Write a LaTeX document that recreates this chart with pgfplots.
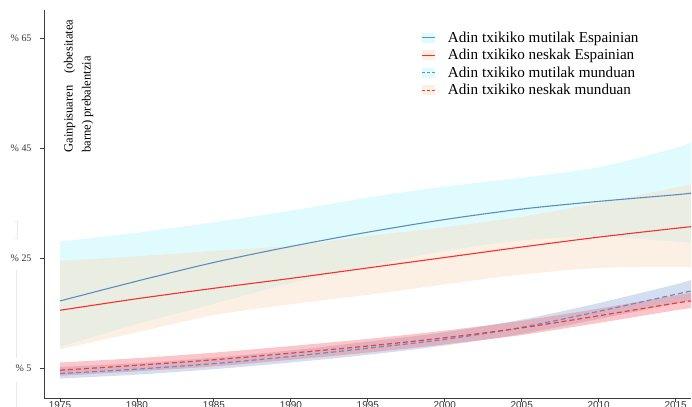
\documentclass[border=0pt]{standalone}
\usepackage{fontspec}
\setmainfont{Liberation Serif}
\newfontfamily\ticksans{Liberation Sans}
\usepackage{pgfplots}
\usepackage{pgfplotstable}
\pgfplotsset{compat=1.18}
\usepgfplotslibrary{fillbetween}

\definecolor{esBoyLine}{RGB}{95,140,190}
\definecolor{esGirlLine}{RGB}{250,45,45}
\definecolor{esBoyBand}{RGB}{177,245,250}
\definecolor{esGirlBand}{RGB}{247,217,187}
\definecolor{wBoyBand}{RGB}{110,150,205}
\definecolor{wGirlBand}{RGB}{245,90,100}
\definecolor{wBoyLine}{RGB}{105,140,195}
\definecolor{wGirlLine}{RGB}{240,60,60}
\definecolor{axisgray}{RGB}{60,60,60}

% year, estimate, lower bound, upper bound
\pgfplotstableread{
year mean lo hi
1975 17.2  8.9 28.0
1980 20.8 13.0 29.6
1985 24.2 16.7 31.5
1990 27.1 20.4 33.6
1995 29.7 23.5 36.0
2000 32.0 26.3 38.0
2005 33.9 28.2 39.6
2010 35.3 28.9 41.5
2015 36.5 28.0 45.0
2016 36.8 27.7 46.1
}\spainboys
\pgfplotstableread{
year mean lo hi
1975 15.5  8.4 24.5
1980 17.6 11.5 25.3
1985 19.5 14.6 26.3
1990 21.3 16.6 27.2
1995 23.2 18.3 29.0
2000 25.1 20.2 30.6
2005 27.0 22.0 32.5
2010 28.8 23.2 35.0
2015 30.4 23.4 37.8
2016 30.7 23.3 38.4
}\spaingirls
\pgfplotstableread{
year mean lo hi
1975  4.0  3.1  5.2
1980  4.8  3.8  5.9
1985  5.8  4.8  6.9
1990  7.1  6.0  8.2
1995  8.6  7.4  9.8
2000 10.2  9.1 11.5
2005 12.4 11.2 13.8
2010 15.3 13.9 16.8
2015 18.4 16.7 20.2
2016 19.0 17.3 21.0
}\worldboys
\pgfplotstableread{
year mean lo hi
1975  4.6  3.6  6.0
1980  5.5  4.4  6.8
1985  6.5  5.3  7.8
1990  7.7  6.5  9.0
1995  9.0  7.8 10.3
2000 10.5  9.3 11.8
2005 12.3 11.0 13.6
2010 14.5 13.2 15.8
2015 16.8 15.5 18.2
2016 17.2 15.9 18.7
}\worldgirls

\begin{document}
\begin{tikzpicture}
\begin{axis}[
  scale only axis,
  width=647bp, height=388bp,
  xmin=1973.96, xmax=2016, ymin=-0.45, ymax=70.1,
  axis x line*=bottom, axis y line*=left,
  axis line style={axisgray, line width=0.9pt, -},
  tick style={axisgray, line width=0.9pt},
  tick align=outside, major tick length=4bp,
  xtick={1975,1980,...,2015},
  xticklabels={1975,1980,1985,1990,1995,2000,2005,2010,2015},
  xticklabel style={font=\ticksans\fontsize{10}{12}\selectfont, text=black!80, inner sep=1bp, yshift=2bp},
  ytick={5,25,45,65},
  yticklabels={\% 5,\% 25,\% 45,\% 65},
  yticklabel style={font=\fontsize{10}{12}\selectfont, text=black!80, xshift=-5bp},
  legend style={draw=none, fill=none, at={(rel axis cs:0.5785,0.955)}, anchor=north west,
    font=\fontsize{15.2}{17.5}\selectfont, row sep=1.6bp,
    nodes={inner xsep=1bp}},
  legend cell align=left,
  clip=false,
]
% Spain: confidence bands
\addplot[name path=ebh, draw=none, smooth, forget plot] table[x=year, y=hi] {\spainboys};
\addplot[name path=ebl, draw=none, smooth, forget plot] table[x=year, y=lo] {\spainboys};
\addplot[esBoyBand, fill opacity=0.4, draw=none, forget plot] fill between[of=ebh and ebl];
\addplot[name path=egh, draw=none, smooth, forget plot] table[x=year, y=hi] {\spaingirls};
\addplot[name path=egl, draw=none, smooth, forget plot] table[x=year, y=lo] {\spaingirls};
\addplot[esGirlBand, fill opacity=0.4, draw=none, forget plot] fill between[of=egh and egl];
% World: confidence bands
\addplot[name path=wbh, draw=none, smooth, forget plot] table[x=year, y=hi] {\worldboys};
\addplot[name path=wbl, draw=none, smooth, forget plot] table[x=year, y=lo] {\worldboys};
\addplot[wBoyBand, fill opacity=0.3, draw=none, forget plot] fill between[of=wbh and wbl];
\addplot[name path=wgh, draw=none, smooth, forget plot] table[x=year, y=hi] {\worldgirls};
\addplot[name path=wgl, draw=none, smooth, forget plot] table[x=year, y=lo] {\worldgirls};
\addplot[wGirlBand, fill opacity=0.35, draw=none, forget plot] fill between[of=wgh and wgl];
% estimates
\addplot[esBoyLine, line width=1.1pt, smooth, forget plot] table[x=year, y=mean] {\spainboys};
\addplot[esGirlLine, line width=1.1pt, smooth, forget plot] table[x=year, y=mean] {\spaingirls};
\addplot[wBoyLine, line width=1.2pt, smooth, dash pattern=on 5bp off 3bp, forget plot] table[x=year, y=mean] {\worldboys};
\addplot[wGirlLine, line width=1.2pt, smooth, dash pattern=on 5bp off 3bp, forget plot] table[x=year, y=mean] {\worldgirls};

% legend entries: band swatch with the line across it, then a gap before the text
\addlegendimage{legend image code/.code={
  \path[draw=none, fill=esBoyBand!40] (0bp,-5bp) rectangle (13bp,5bp);
  \path[draw=esBoyLine, line width=1pt] (0bp,0bp) -- (13bp,0bp);
  \path[draw=none, fill=none] (0bp,0bp) -- (25bp,0bp);}}
\addlegendentry{Adin txikiko mutilak Espainian}
\addlegendimage{legend image code/.code={
  \path[draw=none, fill=esGirlBand!40] (0bp,-5bp) rectangle (13bp,5bp);
  \path[draw=esGirlLine, line width=1pt] (0bp,0bp) -- (13bp,0bp);
  \path[draw=none, fill=none] (0bp,0bp) -- (25bp,0bp);}}
\addlegendentry{Adin txikiko neskak Espainian}
\addlegendimage{legend image code/.code={
  \path[draw=none, fill=esBoyBand!40] (0bp,-5bp) rectangle (13bp,5bp);
  \path[draw=wBoyLine, line width=1pt, dash pattern=on 3bp off 2bp] (0bp,0bp) -- (13bp,0bp);
  \path[draw=none, fill=none] (0bp,0bp) -- (25bp,0bp);}}
\addlegendentry{Adin txikiko mutilak munduan}
\addlegendimage{legend image code/.code={
  \path[draw=none, fill=esGirlBand!40] (0bp,-5bp) rectangle (13bp,5bp);
  \path[draw=wGirlLine, line width=1pt, dash pattern=on 3bp off 2bp] (0bp,0bp) -- (13bp,0bp);
  \path[draw=none, fill=none] (0bp,0bp) -- (25bp,0bp);}}
\addlegendentry{Adin txikiko neskak munduan}

% rotated axis title inside the plot area (first line set justified)
\node[rotate=90, anchor=north west, align=left, inner sep=0pt,
      font=\fontsize{12.6}{18}\selectfont]
  at (rel axis cs:0.0305,0.632)
  {\makebox[133bp][l]{Gainpisuaren\hfill(obesitatea}\\barne) prebalentzia};
\end{axis}
% faint marks left of the vertical axis
\begin{scope}[shift={(current axis.south west)}, black!9, line width=1pt]
  \draw (-29bp,176bp) -- (-27bp,176bp) -- (-27bp,159bp) -- (-29bp,159bp);
  \draw (-28bp,128bp) -- (-28bp,40bp);
  \draw (-28bp,16bp) -- (-28bp,-9bp);
\end{scope}
\pgfresetboundingbox
\path[use as bounding box] ([xshift=-44bp,yshift=-9bp]current axis.south west)
  rectangle ([xshift=1bp,yshift=10bp]current axis.north east);
\end{tikzpicture}
\end{document}
